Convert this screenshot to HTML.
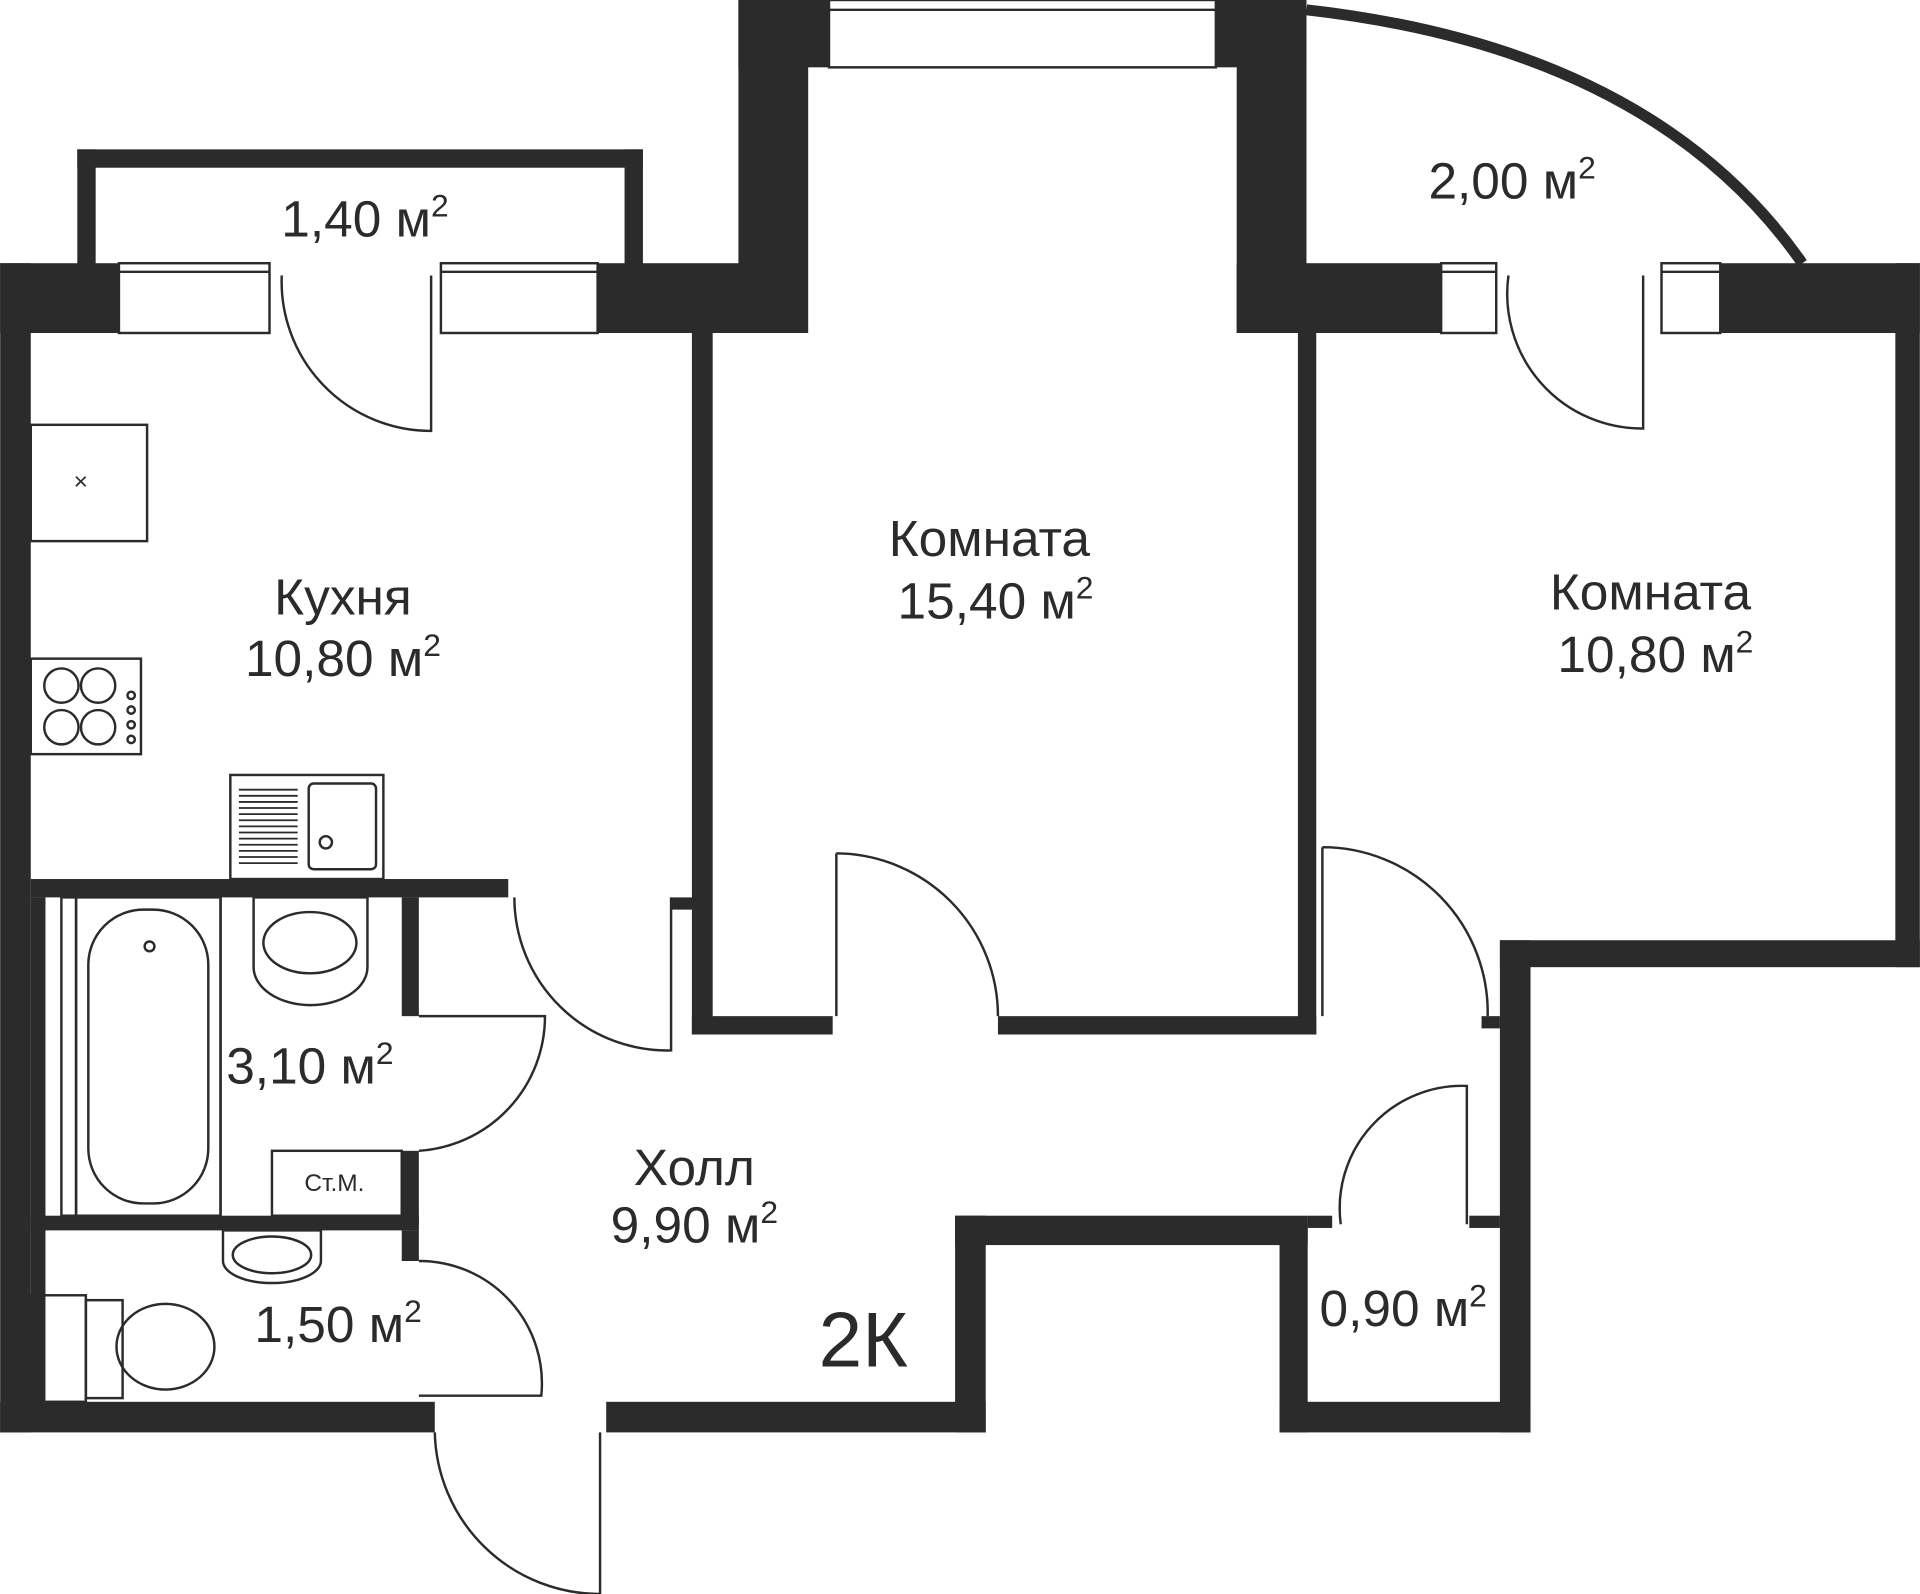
<!DOCTYPE html>
<html><head><meta charset="utf-8"><style>html,body{margin:0;padding:0;background:#fff}svg{display:block}</style></head>
<body>
<svg width="1920" height="1594" viewBox="0 0 1568 1302" xmlns="http://www.w3.org/2000/svg" font-family="Liberation Sans, sans-serif">
<rect width="1568" height="1302" fill="#fff"/>
<g fill="#2b2b2b">
<rect x="63" y="122" width="462" height="15"/>
<rect x="63" y="122" width="15" height="100"/>
<rect x="510" y="122" width="15" height="100"/>
<rect x="0" y="215" width="97" height="57"/>
<rect x="488" y="215" width="117" height="57"/>
<rect x="0" y="215" width="25" height="955"/>
<rect x="603" y="0" width="74" height="55"/>
<rect x="603" y="0" width="57" height="272"/>
<rect x="993" y="0" width="74" height="55"/>
<rect x="1010" y="0" width="57" height="272"/>
<rect x="1010" y="215" width="167" height="57"/>
<rect x="1405" y="215" width="163" height="57"/>
<rect x="1548" y="215" width="20" height="575"/>
<rect x="1225" y="768" width="343" height="22"/>
<rect x="1225" y="768" width="25" height="402"/>
<rect x="1045" y="1145" width="205" height="25"/>
<rect x="1045" y="995" width="23" height="175"/>
<rect x="780" y="993" width="288" height="24"/>
<rect x="780" y="993" width="25" height="177"/>
<rect x="495" y="1145" width="310" height="25"/>
<rect x="0" y="1145" width="355" height="25"/>
<rect x="565" y="272" width="17" height="573"/>
<rect x="565" y="830" width="115" height="15"/>
<rect x="815" y="830" width="260" height="15"/>
<rect x="1060" y="272" width="15" height="573"/>
<rect x="25" y="718" width="390" height="15"/>
<rect x="548" y="733" width="20" height="10"/>
<rect x="328" y="733" width="14" height="97"/>
<rect x="328" y="940" width="14" height="60"/>
<rect x="328" y="1005" width="14" height="25"/>
<rect x="25" y="993" width="317" height="12"/>
<rect x="25" y="733" width="12" height="412"/>
<rect x="1068" y="993" width="20" height="10"/>
<rect x="1200" y="993" width="25" height="10"/>
<rect x="1210" y="830" width="15" height="10"/>
</g>
<g fill="#fff" stroke="#2b2b2b" stroke-width="2">
<rect x="97" y="215" width="123" height="57"/>
<rect x="360" y="215" width="128" height="57"/>
<rect x="677" y="0" width="316" height="55"/>
<rect x="1177" y="215" width="45" height="57"/>
<rect x="1357" y="215" width="48" height="57"/>
</g>
<g stroke="#2b2b2b" stroke-width="2" fill="none">
<line x1="97" y1="222" x2="220" y2="222"/><line x1="360" y1="222" x2="488" y2="222"/>
<line x1="677" y1="8" x2="993" y2="8"/><line x1="1177" y1="222" x2="1222" y2="222"/><line x1="1357" y1="222" x2="1405" y2="222"/>
<path d="M1067 8 Q1350 40 1472 215" stroke-width="9"/>
<path d="M230 225 A122 122 0 0 0 352 352 L352 225"/>
<path d="M1232 225 A110 110 0 0 0 1342 350 L1342 225"/>
<path d="M683 697 L683 830 M683 697 A133 133 0 0 1 815 830"/>
<path d="M1080 692 L1080 830 M1080 692 A135 135 0 0 1 1215 830"/>
<path d="M420 733 A125 125 0 0 0 548 858 L548 733"/>
<path d="M342 830 L445 830 L445 830 A110 110 0 0 1 342 940"/>
<path d="M342 1030 A100 100 0 0 1 442 1140 L342 1140"/>
<path d="M355 1170 A135 135 0 0 0 490 1302 L490 1170"/>
<path d="M1095 1000 A100 100 0 0 1 1198 887 L1198 1000"/>
<rect x="25" y="347" width="95" height="95"/>
<rect x="25" y="538" width="90" height="78"/>
<circle cx="50" cy="560" r="14"/><circle cx="80" cy="560" r="14"/><circle cx="50" cy="594" r="14"/><circle cx="80" cy="594" r="14"/>
<circle cx="107" cy="568" r="3"/><circle cx="107" cy="580" r="3"/><circle cx="107" cy="592" r="3"/><circle cx="107" cy="604" r="3"/>
<rect x="188" y="633" width="125" height="85"/><rect x="252" y="640" width="55" height="70" rx="4"/>
<circle cx="266" cy="688" r="5"/>
<path d="M195 645H243M195 650H243M195 655H243M195 660H243M195 665H243M195 670H243M195 675H243M195 680H243M195 685H243M195 690H243M195 695H243M195 700H243M195 705H243" stroke-width="1.5"/>
<rect x="62" y="733" width="118" height="260"/>
<rect x="72" y="743" width="98" height="240" rx="45"/>
<circle cx="122" cy="773" r="4"/>
<rect x="50" y="733" width="12" height="260"/>
<path d="M207 733 L300 733 L300 790 A45 30 0 0 1 207 790 Z"/>
<ellipse cx="253" cy="770" rx="38" ry="25"/>
<rect x="222" y="940" width="106" height="53"/>
<path d="M182 1005 L262 1005 L262 1030 A40 18 0 0 1 182 1030 Z"/>
<ellipse cx="222" cy="1025" rx="32" ry="15"/>
<rect x="25" y="1058" width="45" height="87"/>
<rect x="70" y="1062" width="30" height="80"/>
<ellipse cx="135" cy="1100" rx="40" ry="35"/>
<line x1="180" y1="733" x2="180" y2="993"/>
</g>
<text x="60" y="400" font-size="20" fill="#2b2b2b">×</text>
<g fill="#2b2b2b" font-size="42" text-anchor="middle">
<text x="298" y="193">1,40 м<tspan font-size="26" dy="-16">2</tspan></text>
<text x="1235" y="162">2,00 м<tspan font-size="26" dy="-16">2</tspan></text>
<text x="280" y="502">Кухня</text>
<text x="280" y="552">10,80 м<tspan font-size="26" dy="-16">2</tspan></text>
<text x="808" y="454">Комната</text>
<text x="813" y="505">15,40 м<tspan font-size="26" dy="-16">2</tspan></text>
<text x="1348" y="498">Комната</text>
<text x="1352" y="549">10,80 м<tspan font-size="26" dy="-16">2</tspan></text>
<text x="253" y="885">3,10 м<tspan font-size="26" dy="-16">2</tspan></text>
<text x="567" y="968">Холл</text>
<text x="567" y="1015">9,90 м<tspan font-size="26" dy="-16">2</tspan></text>
<text x="276" y="1096">1,50 м<tspan font-size="26" dy="-16">2</tspan></text>
<text x="1146" y="1083">0,90 м<tspan font-size="26" dy="-16">2</tspan></text>
<text x="705" y="1116" font-size="64">2К</text>
<text x="273" y="973" font-size="20">Ст.М.</text>
</g>
</svg>
</body></html>
